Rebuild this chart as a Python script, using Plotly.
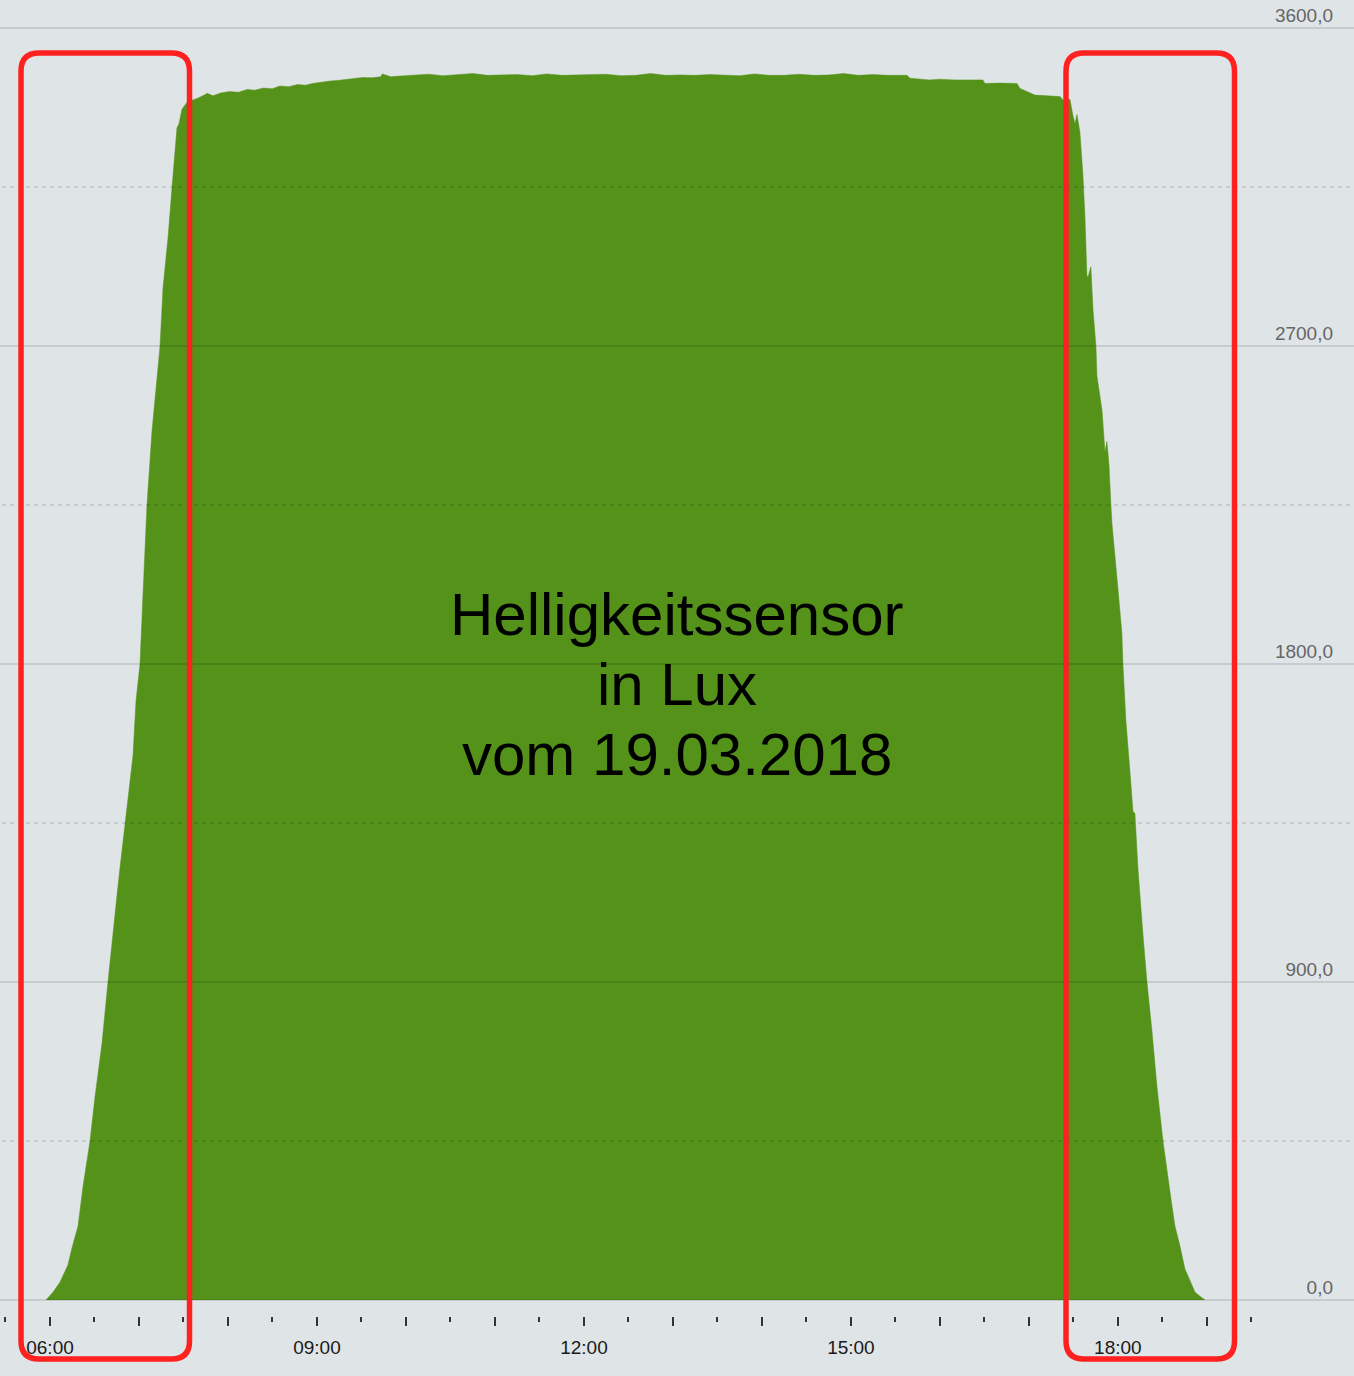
import pandas as pd
import plotly.graph_objects as go

# Helligkeitssensor 19.03.2018, values (minutes since midnight, lux)
minutes = [357.3, 362, 366.7, 369, 372.1, 375, 378.9, 382.2, 387.0, 390.3, 395.1, 399.1,
           402.5, 405.2, 407.2, 410.6, 413.3, 416.0, 418.0, 420.7, 422.7, 425.4, 428.8,
           434.2, 436.2, 439.6, 442.3, 445.6, 447, 449.0, 452.4, 456.4,
           460, 464, 466, 470, 475, 481, 487, 493, 498, 504, 510, 515, 521, 527, 532, 537,
           543, 549, 555, 560, 566, 571, 577, 583, 584, 590, 596,
           605, 615, 625, 635, 645, 655, 665, 675, 685, 695, 705, 715, 725, 735, 745, 755,
           765, 775, 785, 795, 805, 815, 825, 835, 845, 855, 865, 875, 885, 895, 905, 915,
           925, 937.8,
           939.8, 953, 960, 970, 980, 989, 990.4, 1000, 1012, 1014, 1024, 1030, 1041, 1043,
           1047.7, 1049.7, 1051.1, 1052.4, 1054.4, 1056.4, 1057.8, 1059.1, 1059.8, 1061.8,
           1063.2, 1065.2, 1065.9, 1069.3, 1071.3, 1072.6, 1074.0, 1075.3, 1076.0, 1079.4,
           1082.7, 1083.4, 1085.4, 1088.1, 1090.2, 1091.5, 1093.5, 1096.9, 1099.6, 1103.0,
           1106.3, 1110.4, 1113.1, 1115.8, 1118.5, 1121.8, 1125.2, 1128.6, 1132.0, 1136.7, 1138.7]
lux = [0, 22, 50, 70, 99, 150, 209, 319, 450, 573, 727, 900,
       1046, 1146, 1223, 1348, 1432, 1542, 1696, 1800, 1995, 2250, 2460,
       2700, 2864, 3007, 3150, 3317, 3330, 3370, 3390, 3396,
       3402, 3410, 3415, 3408, 3416, 3420, 3418, 3426, 3424, 3430, 3428, 3436, 3434, 3440, 3438, 3443,
       3447, 3450, 3452, 3455, 3458, 3460, 3459, 3462, 3470, 3462, 3464,
       3466, 3469, 3465, 3467, 3471, 3466, 3466, 3468, 3465, 3470, 3466, 3467, 3466, 3469, 3465, 3466,
       3471, 3466, 3467, 3466, 3468, 3466, 3465, 3470, 3466, 3466, 3469, 3466, 3467, 3471, 3466, 3468,
       3466, 3466,
       3458, 3453, 3455, 3453, 3454, 3453, 3443, 3444, 3443, 3429, 3410, 3408, 3406, 3396,
       3398, 3352, 3329, 3355, 3305, 3186, 3067, 2900, 2894, 2924,
       2805, 2700, 2614, 2519, 2400, 2430, 2364, 2250, 2198, 2043,
       1888, 1800, 1640, 1498, 1383, 1377, 1223, 1035, 900, 760,
       606, 450, 375, 286, 209, 154, 88, 55, 22, 6, 0]

day = pd.Timestamp("2018-03-19")
times = day + pd.to_timedelta(minutes, unit="min")

tick_hours = list(range(5, 21))
tick_text = ["", "06:00", "", "", "09:00", "", "", "12:00", "", "",
             "15:00", "", "", "18:00", "", ""]
tick_vals = [day + pd.Timedelta(hours=h) for h in tick_hours]

grid_major = [0, 900, 1800, 2700, 3600]
grid_minor = [450, 1350, 2250, 3150]
y_labels = ["0,0", "900,0", "1800,0", "2700,0", "3600,0"]

fig = go.Figure()
fig.add_trace(go.Scatter(x=times, y=lux, mode="lines", fill="tozeroy",
                         line=dict(color="#54921a", width=0.5),
                         fillcolor="#54921a", hoverinfo="skip"))

# grid on top of the area, like the original
shapes = []
for v in grid_major:
    shapes.append(dict(type="line", xref="paper", x0=0, x1=1, yref="y", y0=v, y1=v,
                       line=dict(color="rgba(0,0,0,0.11)", width=2), layer="above"))
for v in grid_minor:
    shapes.append(dict(type="line", xref="paper", x0=0.0015, x1=1, yref="y", y0=v, y1=v,
                       line=dict(color="rgba(0,0,0,0.11)", width=2, dash="4px,4px"), layer="above"))


def rounded_rect(x0, y0, x1, y1, r):
    # pixel path, y negative = downwards from the top of the plot
    return (f"M {x0+r},{y0} L {x1-r},{y0} Q {x1},{y0} {x1},{y0-r} "
            f"L {x1},{y1+r} Q {x1},{y1} {x1-r},{y1} L {x0+r},{y1} "
            f"Q {x0},{y1} {x0},{y1+r} L {x0},{y0-r} Q {x0},{y0} {x0+r},{y0} Z")


for left, right in [(21, 189.5), (1066, 1234.5)]:
    shapes.append(dict(type="path", xref="paper", yref="paper",
                       xsizemode="pixel", ysizemode="pixel", xanchor=0, yanchor=1,
                       path=rounded_rect(left, -53, right, -1359, 18),
                       line=dict(color="#ff2020", width=5.5), layer="above"))

annotations = []
for txt, yy in [("Helligkeitssensor", 0.5327), ("in Lux", 0.4795), ("vom 19.03.2018", 0.4263)]:
    annotations.append(dict(text=txt, xref="paper", yref="paper", x=0.5, y=yy,
                            xanchor="center", yanchor="middle", showarrow=False,
                            font=dict(family="Liberation Sans", size=60, color="#000000")))

fig.update_layout(
    width=1354, height=1376,
    margin=dict(l=0, r=0, t=0, b=60),
    paper_bgcolor="#dfe4e7", plot_bgcolor="#dfe4e7",
    showlegend=False,
    shapes=shapes,
    annotations=annotations,
    xaxis=dict(type="date", range=["2018-03-19 05:26:18", "2018-03-19 20:39:12"],
               tickmode="array", tickvals=tick_vals, ticktext=tick_text,
               ticks="outside", ticklen=9, tickwidth=2, tickcolor="#333333",
               ticklabelstandoff=5,
               showgrid=False, zeroline=False, showline=False,
               tickfont=dict(family="Liberation Sans", size=19, color="#1a1a1a"),
               minor=dict(ticks="outside", ticklen=5, tickwidth=2, tickcolor="#333333",
                          tickmode="linear", tick0="2018-03-19", dtick=30 * 60 * 1000,
                          showgrid=False)),
    yaxis=dict(range=[-45.3, 3679.2], side="right", tickmode="array",
               tickvals=grid_major, ticktext=y_labels, ticks="",
               ticklabelposition="inside", ticklabelshift=-13, ticklabelstandoff=18,
               showgrid=False, zeroline=False, showline=False,
               tickfont=dict(family="Liberation Sans", size=19, color="#666666")),
)

fig.write_html("out.html", config={"displayModeBar": False},
               post_script="document.body.style.margin='0px';")
